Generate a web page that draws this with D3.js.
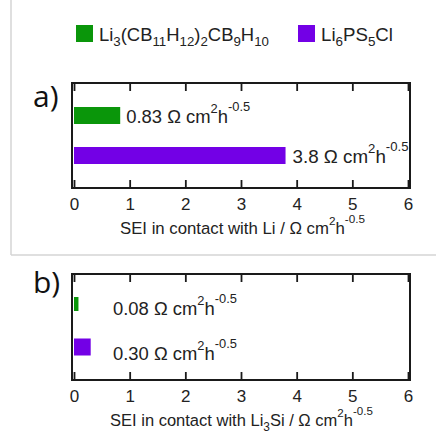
<!DOCTYPE html>
<html>
<head>
<meta charset="utf-8">
<script src="https://cdn.jsdelivr.net/npm/d3@7"></script>
<style>
  html, body { margin: 0; padding: 0; background: #fff; }
  svg { display: block; }
</style>
</head>
<body>
<script>
// ---- data ----
const categories = ["Li3(CB11H12)2CB9H10", "Li6PS5Cl"];
const seriesColors = ["#0a960a", "#7300e6"];
const valuesLi = [0.83, 3.8];
const valuesLi3Si = [0.08, 0.30];
const labelsLi = ["0.83", "3.8"];
const labelsLi3Si = ["0.08", "0.30"];
const xTicks = [0, 1, 2, 3, 4, 5, 6];
const panelLetters = ["a)", "b)"];

const W = 436, H = 444;
const FONT = "'Liberation Sans', Arial, sans-serif";
const svg = d3.select("body").append("svg").attr("width", W).attr("height", H);
svg.append("rect").attr("width", W).attr("height", H).attr("fill", "#fff");

// light frame around panel a
svg.append("line").attr("x1", 11).attr("x2", 11).attr("y1", 0).attr("y2", 255)
  .attr("stroke", "#d4d4d4").attr("stroke-width", 1.5);
svg.append("line").attr("x1", 11).attr("x2", W).attr("y1", 255).attr("y2", 255)
  .attr("stroke", "#d4d4d4").attr("stroke-width", 1.5);

// rich text helper: segments [text, mode]; fitted so the whole text spans `width` px
function rich(g, x, y, segs, width) {
  const t = g.append("text").attr("x", x).attr("y", y)
    .attr("font-family", FONT).attr("fill", "#222");
  function build(size) {
    t.selectAll("tspan").remove();
    let cur = 0;
    segs.forEach(([s, m]) => {
      let target = 0, fs = size;
      if (m === "sub") { target = size * 0.28; fs = size * 0.72; }
      if (m === "sup") { target = -size * 0.52; fs = size * 0.7; }
      if (m === "sup2") { target = -size * 0.64; fs = size * 0.7; }
      t.append("tspan").attr("dy", target - cur).attr("font-size", fs).text(s);
      cur = target;
    });
  }
  build(16);
  const w = t.node().getComputedTextLength();
  build(16 * width / w);
  return t;
}
const unitSegs = [[" \u03A9 cm", null], ["2", "sup"], ["h", null], ["-0.5", "sup2"]];

// legend
const legendX = [76, 298];
const legendSegs = [
  [["Li", null], ["3", "sub"], ["(CB", null], ["11", "sub"], ["H", null], ["12", "sub"], [")", null], ["2", "sub"], ["CB", null], ["9", "sub"], ["H", null], ["10", "sub"]],
  [["Li", null], ["6", "sub"], ["PS", null], ["5", "sub"], ["Cl", null]]
];
const legendW = [170, 72];
categories.forEach((c, i) => {
  svg.append("rect").attr("x", legendX[i]).attr("y", 25).attr("width", 17).attr("height", 17)
    .attr("fill", seriesColors[i]);
  rich(svg, legendX[i] + 23, 41, legendSegs[i], legendW[i]);
});

const x = d3.scaleLinear().domain([0, 6]).range([74, 408]);

function panel(opts) {
  const g = svg.append("g");
  const { top, bottom, values, labels, centers, barH, letterY, labelMode, titleSegs, titleX, titleW } = opts;
  const y = d3.scalePoint().domain(categories).range(centers);

  // bars
  g.selectAll("rect.bar").data(values).join("rect").attr("class", "bar")
    .attr("x", x(0)).attr("y", (d, i) => y(categories[i]) - barH[i] / 2)
    .attr("width", d => x(d) - x(0)).attr("height", (d, i) => barH[i])
    .attr("fill", (d, i) => seriesColors[i]);

  // bar labels
  values.forEach((v, i) => {
    const lx = labelMode === "attached" ? x(v) + 6 + i : x(0.7);
    rich(g, lx, y(categories[i]) + barH[i] / 2 - (labelMode === "attached" ? 1 : -4),
      [[labels[i], null], ...unitSegs], labels[i].length === 3 ? 116 : 124);
  });

  // frame
  g.append("rect").attr("x", 72).attr("y", top).attr("width", 410 - 72).attr("height", bottom - top)
    .attr("fill", "none").attr("stroke", "#1a1a1a").attr("stroke-width", 2);

  // ticks (inward, top & bottom) via axes
  const axB = d3.axisBottom(x).tickValues(xTicks).tickSize(-8).tickFormat(d3.format("d")).tickPadding(10);
  const gb = g.append("g").attr("transform", `translate(0,${bottom})`).call(axB);
  gb.select(".domain").remove();
  gb.selectAll(".tick line").attr("stroke", "#1a1a1a").attr("stroke-width", 1.8);
  gb.selectAll(".tick text").attr("font-family", FONT).attr("font-size", 17).attr("fill", "#222");
  const axT = d3.axisTop(x).tickValues(xTicks).tickSize(-8).tickFormat("");
  const gt = g.append("g").attr("transform", `translate(0,${top})`).call(axT);
  gt.select(".domain").remove();
  gt.selectAll(".tick line").attr("stroke", "#1a1a1a").attr("stroke-width", 1.8);

  // axis title
  rich(g, titleX, bottom + 46, titleSegs, titleW);

  // panel letter
  g.append("text").attr("x", 33).attr("y", letterY).attr("font-family", "'Open Sans', sans-serif")
    .attr("font-size", 30).attr("fill", "#111").text(opts.letter);
}

panel({
  top: 83, bottom: 188, values: valuesLi, labels: labelsLi,
  centers: [115.5, 155.5], barH: [17, 17], letterY: 107, labelMode: "attached",
  titleSegs: [["SEI in contact with Li / \u03A9 cm", null], ["2", "sup"], ["h", null], ["-0.5", "sup2"]],
  titleX: 120, titleW: 245, letter: panelLetters[0]
});
panel({
  top: 274, bottom: 380, values: valuesLi3Si, labels: labelsLi3Si,
  centers: [304, 347], barH: [14, 17], letterY: 293, labelMode: "fixed",
  titleSegs: [["SEI in contact with Li", null], ["3", "sub"], ["Si / \u03A9 cm", null], ["2", "sup"], ["h", null], ["-0.5", "sup2"]],
  titleX: 110, titleW: 263, letter: panelLetters[1]
});
</script>
</body>
</html>
